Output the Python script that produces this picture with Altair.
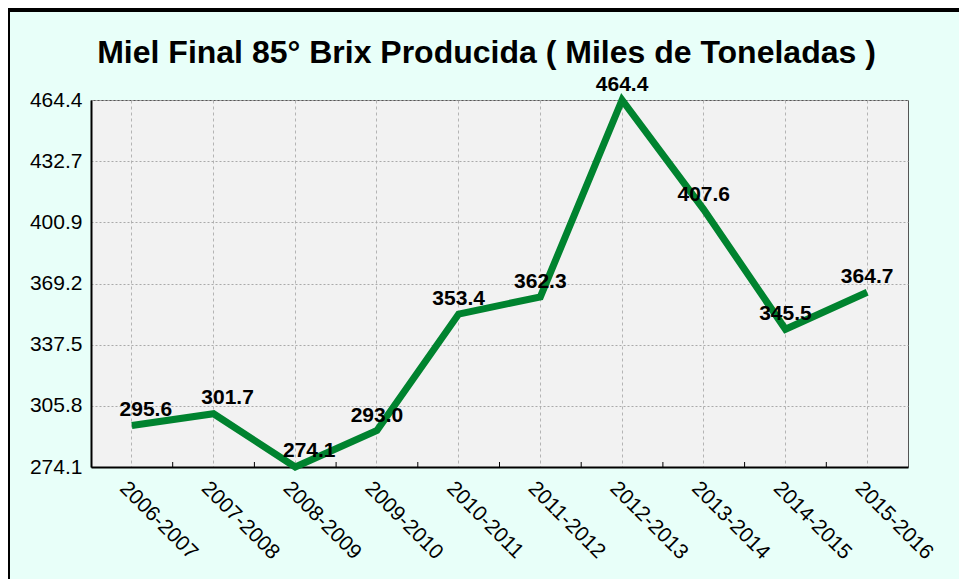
import altair as alt
import pandas as pd

categories = ["2006-2007", "2007-2008", "2008-2009", "2009-2010", "2010-2011",
              "2011-2012", "2012-2013", "2013-2014", "2014-2015", "2015-2016"]
values = [295.6, 301.7, 274.1, 293.0, 353.4, 362.3, 464.4, 407.6, 345.5, 364.7]
y_ticks = [274.1, 305.8, 337.5, 369.2, 400.9, 432.7, 464.4]
title_text = "Miel Final 85° Brix Producida ( Miles de Toneladas )"

df = pd.DataFrame({"cat": categories, "val": values})
df["lbl"] = [f"{v:.1f}" for v in values]

W, H = 817, 367
PL, PT, PR, PB = 83, 92, 51, 112
FONT = "Liberation Sans"

xscale = alt.Scale(domain=categories, type="band", paddingInner=0, paddingOuter=0)
yscale = alt.Scale(domain=[y_ticks[0], y_ticks[-1]], nice=False, zero=False)

x_enc = alt.X("cat:N", scale=xscale, sort=categories,
              axis=alt.Axis(title=None, labelAngle=45, labelAlign="left", labelBaseline="top",
                            labelFontSize=21, labelFont=FONT, labelColor="black",
                            ticks=False, domainColor="black", domainWidth=2,
                            grid=True, gridColor="#B4B4B4", gridDash=[3, 3], gridWidth=1,
                            labelPadding=10, labelOffset=-1, labelOverlap=False))
y_enc = alt.Y("val:Q", scale=yscale,
              axis=alt.Axis(title=None, values=y_ticks, format=".1f", labelFontSize=21,
                            labelFont=FONT, labelColor="black", ticks=False,
                            domainColor="black", domainWidth=2, grid=True,
                            gridColor="#AAAAAA", gridDash=[2, 2], gridWidth=1,
                            labelPadding=9))

base = alt.Chart(df)

line = base.mark_line(color="#00832F", strokeWidth=7, strokeJoin="miter", strokeCap="butt").encode(
    x=x_enc, y=y_enc)

inner_ticks = base.transform_filter(
    alt.FieldOneOfPredicate(field="cat", oneOf=categories[:-1])
).mark_rule(color="black", strokeWidth=1).encode(
    x=alt.X("cat:N", scale=xscale, sort=categories, bandPosition=1),
    y=alt.value(H - 5), y2=alt.value(H))

shifted = categories[:3]
labels_a = base.transform_filter(
    alt.FieldOneOfPredicate(field="cat", oneOf=shifted)
).mark_text(fontSize=21, fontWeight="bold", font=FONT, color="black", dy=-16, dx=14,
            baseline="middle").encode(x=alt.X("cat:N", scale=xscale, sort=categories),
                                      y=alt.Y("val:Q", scale=yscale), text="lbl:N")
labels_b = base.transform_filter(
    ~alt.FieldOneOfPredicate(field="cat", oneOf=shifted)
).mark_text(fontSize=21, fontWeight="bold", font=FONT, color="black", dy=-15,
            baseline="middle").encode(x=alt.X("cat:N", scale=xscale, sort=categories),
                                      y=alt.Y("val:Q", scale=yscale), text="lbl:N")

title_mark = base.transform_filter(
    alt.FieldEqualPredicate(field="cat", equal=categories[0])
).mark_text(text=title_text, fontSize=32, fontWeight="bold", font=FONT, color="black",
            align="center", baseline="alphabetic").encode(
    x=alt.value(W / 2 - 13), y=alt.value(-PT + 55))

border_left = base.mark_rule(color="black", strokeWidth=3).encode(
    x=alt.value(-PL + 0.5), y=alt.value(-PT), y2=alt.value(H + PB))
border_top = base.mark_rule(color="black", strokeWidth=3).encode(
    x=alt.value(-PL), x2=alt.value(W + PR), y=alt.value(-PT + 2))

chart = alt.layer(line, inner_ticks, labels_a, labels_b, title_mark, border_left, border_top).properties(
    width=W, height=H,
    background="#E8FFF9",
    padding={"left": PL, "top": PT, "right": PR, "bottom": PB},
    autosize=alt.AutoSizeParams(type="none"),
).configure_view(fill="#F2F2F2", stroke="#555555", strokeWidth=1)

chart.save("out.html", embed_options={"renderer": "svg", "actions": False})
